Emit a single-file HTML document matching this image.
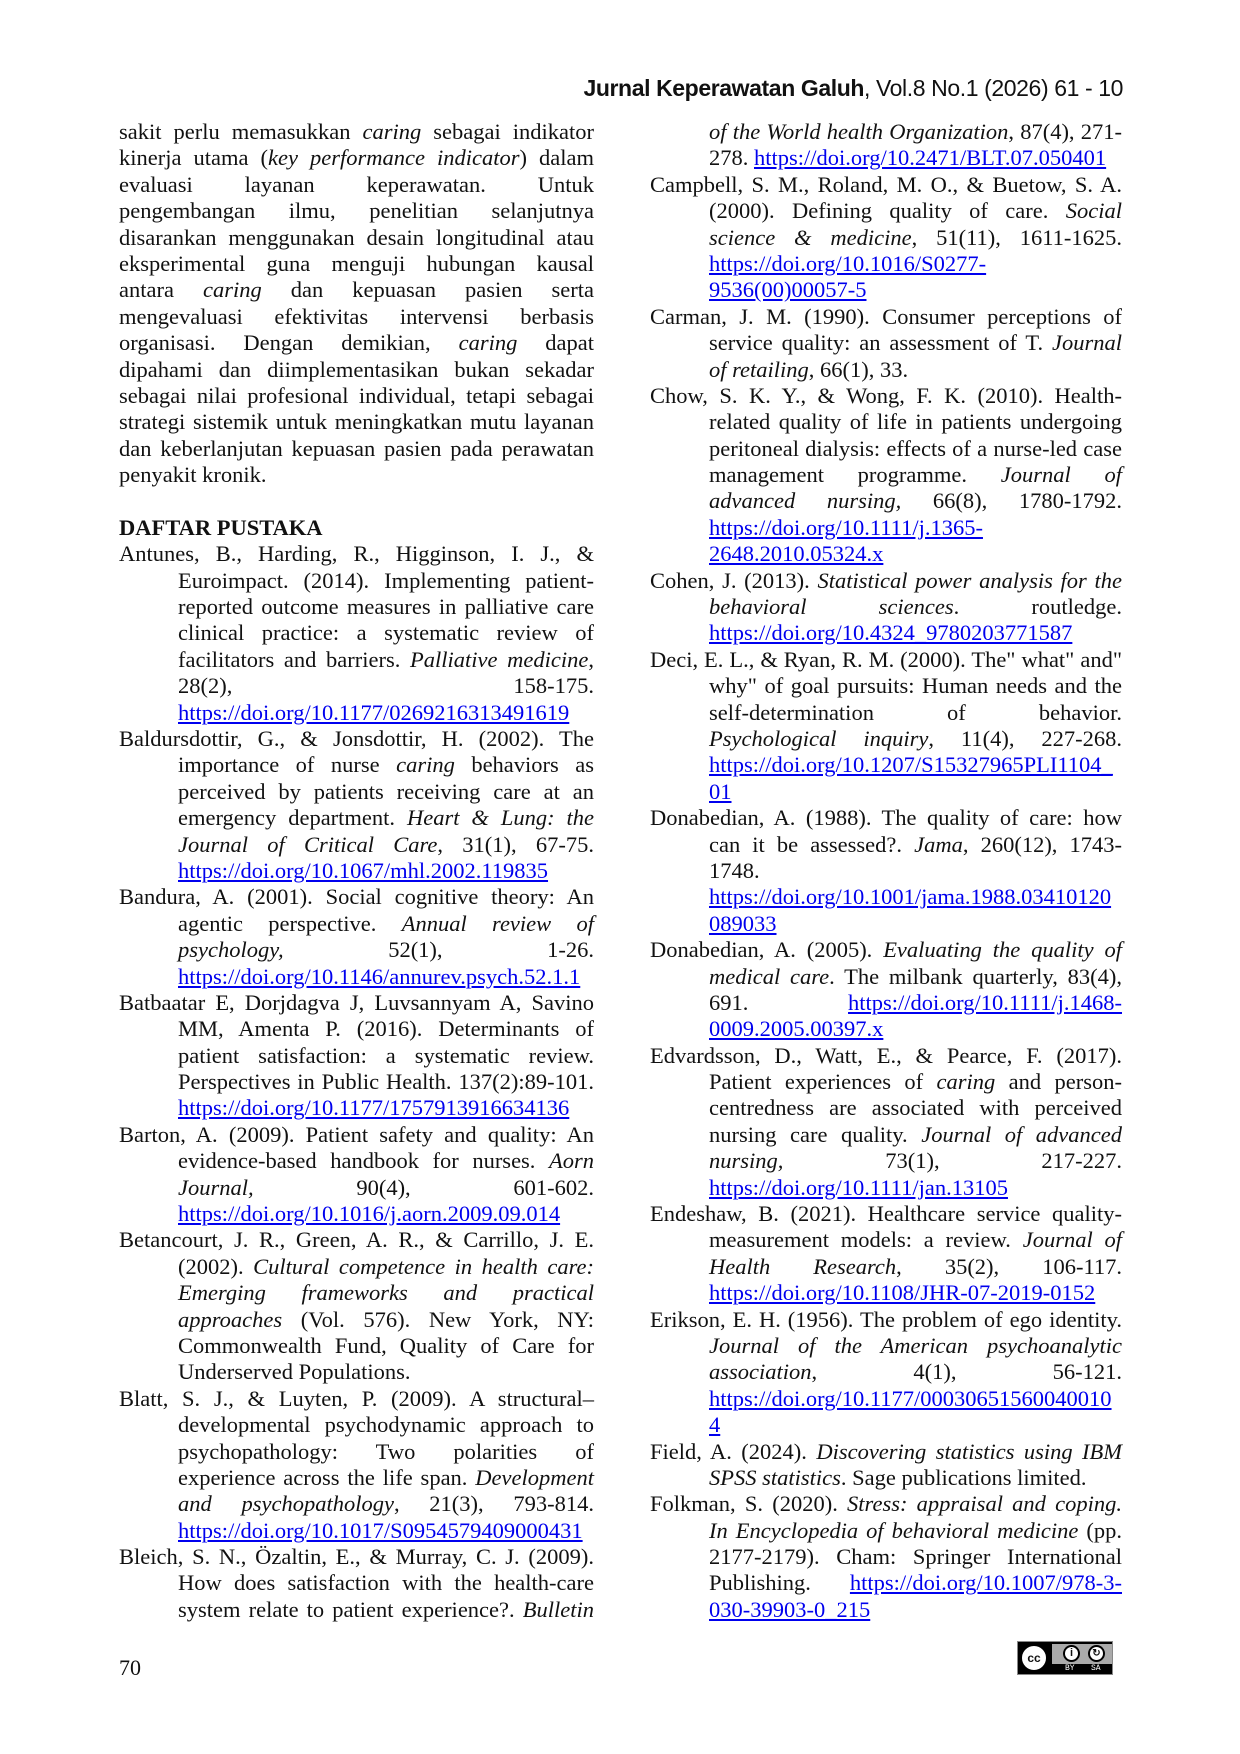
<!DOCTYPE html>
<html><head><meta charset="utf-8"><style>
html,body{margin:0;padding:0;background:#fff}
body{width:1240px;height:1754px;position:relative;overflow:hidden;font-family:"Liberation Serif",serif;font-size:22.5px;color:#111}
.col{position:absolute;top:119px;line-height:26.4px}
.col div{white-space:nowrap;height:26.4px}
.j{text-align:justify;text-align-last:justify;white-space:normal!important;word-spacing:-2px}
.i{margin-left:59px}
a{color:#0000ee;text-decoration:underline}
.hdr{position:absolute;right:117px;top:75px;font-family:"Liberation Sans",sans-serif;font-size:23px;color:#111;letter-spacing:-0.4px}
</style></head><body>
<div class="hdr"><b>Jurnal Keperawatan Galuh</b>, Vol.8 No.1 (2026) 61 - 10</div>

<div class="col" style="left:119px;width:475px">
<div class="j">sakit perlu memasukkan <i>caring</i> sebagai indikator</div>
<div class="j">kinerja utama (<i>key performance indicator</i>) dalam</div>
<div class="j">evaluasi layanan keperawatan. Untuk</div>
<div class="j">pengembangan ilmu, penelitian selanjutnya</div>
<div class="j">disarankan menggunakan desain longitudinal atau</div>
<div class="j">eksperimental guna menguji hubungan kausal</div>
<div class="j">antara <i>caring</i> dan kepuasan pasien serta</div>
<div class="j">mengevaluasi efektivitas intervensi berbasis</div>
<div class="j">organisasi. Dengan demikian, <i>caring</i> dapat</div>
<div class="j">dipahami dan diimplementasikan bukan sekadar</div>
<div class="j">sebagai nilai profesional individual, tetapi sebagai</div>
<div class="j">strategi sistemik untuk meningkatkan mutu layanan</div>
<div class="j">dan keberlanjutan kepuasan pasien pada perawatan</div>
<div>penyakit kronik.</div>
<div></div>
<div><b>DAFTAR PUSTAKA</b></div>
<div class="j">Antunes, B., Harding, R., Higginson, I. J., &amp;</div>
<div class="j i">Euroimpact. (2014). Implementing patient-</div>
<div class="j i">reported outcome measures in palliative care</div>
<div class="j i">clinical practice: a systematic review of</div>
<div class="j i">facilitators and barriers. <i>Palliative medicine</i>,</div>
<div class="j i">28(2), 158-175.</div>
<div class="i"><a>https://doi.org/10.1177/0269216313491619</a></div>
<div class="j">Baldursdottir, G., &amp; Jonsdottir, H. (2002). The</div>
<div class="j i">importance of nurse <i>caring</i> behaviors as</div>
<div class="j i">perceived by patients receiving care at an</div>
<div class="j i">emergency department. <i>Heart &amp; Lung: the</i></div>
<div class="j i"><i>Journal of Critical Care</i>, 31(1), 67-75.</div>
<div class="i"><a>https://doi.org/10.1067/mhl.2002.119835</a></div>
<div class="j">Bandura, A. (2001). Social cognitive theory: An</div>
<div class="j i">agentic perspective. <i>Annual review of</i></div>
<div class="j i"><i>psychology,</i> 52(1), 1-26.</div>
<div class="i"><a>https://doi.org/10.1146/annurev.psych.52.1.1</a></div>
<div class="j">Batbaatar E, Dorjdagva J, Luvsannyam A, Savino</div>
<div class="j i">MM, Amenta P. (2016). Determinants of</div>
<div class="j i">patient satisfaction: a systematic review.</div>
<div class="j i">Perspectives in Public Health. 137(2):89-101.</div>
<div class="i"><a>https://doi.org/10.1177/1757913916634136</a></div>
<div class="j">Barton, A. (2009). Patient safety and quality: An</div>
<div class="j i">evidence-based handbook for nurses. <i>Aorn</i></div>
<div class="j i"><i>Journal,</i> 90(4), 601-602.</div>
<div class="i"><a>https://doi.org/10.1016/j.aorn.2009.09.014</a></div>
<div class="j">Betancourt, J. R., Green, A. R., &amp; Carrillo, J. E.</div>
<div class="j i">(2002). <i>Cultural competence in health care:</i></div>
<div class="j i"><i>Emerging frameworks and practical</i></div>
<div class="j i"><i>approaches</i> (Vol. 576). New York, NY:</div>
<div class="j i">Commonwealth Fund, Quality of Care for</div>
<div class="i">Underserved Populations.</div>
<div class="j">Blatt, S. J., &amp; Luyten, P. (2009). A structural–</div>
<div class="j i">developmental psychodynamic approach to</div>
<div class="j i">psychopathology: Two polarities of</div>
<div class="j i">experience across the life span. <i>Development</i></div>
<div class="j i"><i>and psychopathology</i>, 21(3), 793-814.</div>
<div class="i"><a>https://doi.org/10.1017/S0954579409000431</a></div>
<div class="j">Bleich, S. N., Özaltin, E., &amp; Murray, C. J. (2009).</div>
<div class="j i">How does satisfaction with the health-care</div>
<div class="j i">system relate to patient experience?. <i>Bulletin</i></div>
</div>

<div class="col" style="left:650px;width:472px">
<div class="j i"><i>of the World health Organization</i>, 87(4), 271-</div>
<div class="i">278. <a>https://doi.org/10.2471/BLT.07.050401</a></div>
<div class="j">Campbell, S. M., Roland, M. O., &amp; Buetow, S. A.</div>
<div class="j i">(2000). Defining quality of care. <i>Social</i></div>
<div class="j i"><i>science &amp; medicine</i>, 51(11), 1611-1625.</div>
<div class="i"><a>https://doi.org/10.1016/S0277-</a></div>
<div class="i"><a>9536(00)00057-5</a></div>
<div class="j">Carman, J. M. (1990). Consumer perceptions of</div>
<div class="j i">service quality: an assessment of T. <i>Journal</i></div>
<div class="i"><i>of retailing</i>, 66(1), 33.</div>
<div class="j">Chow, S. K. Y., &amp; Wong, F. K. (2010). Health-</div>
<div class="j i">related quality of life in patients undergoing</div>
<div class="j i">peritoneal dialysis: effects of a nurse-led case</div>
<div class="j i">management programme. <i>Journal of</i></div>
<div class="j i"><i>advanced nursing,</i> 66(8), 1780-1792.</div>
<div class="i"><a>https://doi.org/10.1111/j.1365-</a></div>
<div class="i"><a>2648.2010.05324.x</a></div>
<div class="j">Cohen, J. (2013). <i>Statistical power analysis for the</i></div>
<div class="j i"><i>behavioral sciences</i>. routledge.</div>
<div class="i"><a>https://doi.org/10.4324_9780203771587</a></div>
<div class="j">Deci, E. L., &amp; Ryan, R. M. (2000). The" what" and"</div>
<div class="j i">why" of goal pursuits: Human needs and the</div>
<div class="j i">self-determination of behavior.</div>
<div class="j i"><i>Psychological inquiry</i>, 11(4), 227-268.</div>
<div class="i"><a>https://doi.org/10.1207/S15327965PLI1104_</a></div>
<div class="i"><a>01</a></div>
<div class="j">Donabedian, A. (1988). The quality of care: how</div>
<div class="j i">can it be assessed?. <i>Jama</i>, 260(12), 1743-</div>
<div class="i">1748.</div>
<div class="i"><a>https://doi.org/10.1001/jama.1988.03410120</a></div>
<div class="i"><a>089033</a></div>
<div class="j">Donabedian, A. (2005). <i>Evaluating the quality of</i></div>
<div class="j i"><i>medical care</i>. The milbank quarterly, 83(4),</div>
<div class="j i">691. <a>https://doi.org/10.1111/j.1468-</a></div>
<div class="i"><a>0009.2005.00397.x</a></div>
<div class="j">Edvardsson, D., Watt, E., &amp; Pearce, F. (2017).</div>
<div class="j i">Patient experiences of <i>caring</i> and person-</div>
<div class="j i">centredness are associated with perceived</div>
<div class="j i">nursing care quality. <i>Journal of advanced</i></div>
<div class="j i"><i>nursing,</i> 73(1), 217-227.</div>
<div class="i"><a>https://doi.org/10.1111/jan.13105</a></div>
<div class="j">Endeshaw, B. (2021). Healthcare service quality-</div>
<div class="j i">measurement models: a review. <i>Journal of</i></div>
<div class="j i"><i>Health Research</i>, 35(2), 106-117.</div>
<div class="i"><a>https://doi.org/10.1108/JHR-07-2019-0152</a></div>
<div class="j">Erikson, E. H. (1956). The problem of ego identity.</div>
<div class="j i"><i>Journal of the American psychoanalytic</i></div>
<div class="j i"><i>association</i>, 4(1), 56-121.</div>
<div class="i"><a>https://doi.org/10.1177/00030651560040010</a></div>
<div class="i"><a>4</a></div>
<div class="j">Field, A. (2024). <i>Discovering statistics using IBM</i></div>
<div class="i"><i>SPSS statistics</i>. Sage publications limited.</div>
<div class="j">Folkman, S. (2020). <i>Stress: appraisal and coping.</i></div>
<div class="j i"><i>In Encyclopedia of behavioral medicine</i> (pp.</div>
<div class="j i">2177-2179). Cham: Springer International</div>
<div class="j i">Publishing. <a>https://doi.org/10.1007/978-3-</a></div>
<div class="i"><a>030-39903-0_215</a></div>
</div>

<div style="position:absolute;left:119px;top:1655px;font-size:22px">70</div>
<div style="position:absolute;left:1017px;top:1641px;width:96px;height:34px;background:#000;border:1px solid #888;box-sizing:border-box">
 <div style="position:absolute;left:2px;top:2px;width:28px;height:28px;border-radius:50%;background:#fff;border:2px solid #000;box-sizing:border-box;font:bold 12px 'Liberation Sans',sans-serif;text-align:center;line-height:24px">cc</div>
 <div style="position:absolute;left:34px;top:2px;width:60px;height:20px;background:#aaa"></div>
 <div style="position:absolute;left:45px;top:3px;width:17px;height:17px;border-radius:50%;background:#fff;border:2px solid #000;box-sizing:border-box;font:bold 11px 'Liberation Sans',sans-serif;text-align:center;line-height:13px">i</div>
 <div style="position:absolute;left:70px;top:3px;width:17px;height:17px;border-radius:50%;background:#fff;border:2px solid #000;box-sizing:border-box;font:bold 10px 'Liberation Sans',sans-serif;text-align:center;line-height:13px">↻</div>
 <div style="position:absolute;left:47px;top:22px;color:#fff;font:8px 'Liberation Mono',monospace">BY</div>
 <div style="position:absolute;left:73px;top:22px;color:#fff;font:8px 'Liberation Mono',monospace">SA</div>
</div>
</body></html>
